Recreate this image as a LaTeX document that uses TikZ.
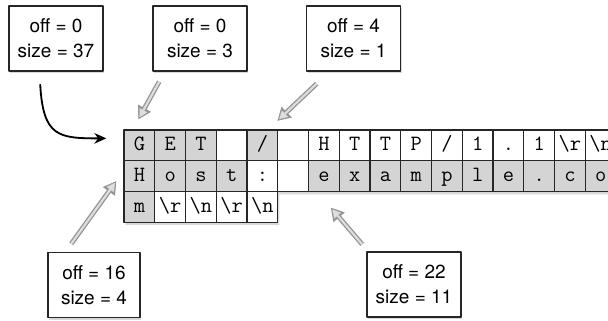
\documentclass[tikz,border=0pt]{standalone}
\usepackage{fontspec}
\setmainfont{TeX Gyre Heros}
\usetikzlibrary{arrows.meta,calc,shadows}
\definecolor{cellgray}{RGB}{212,212,212}
\definecolor{framegray}{RGB}{38,38,38}
\definecolor{arrowgray}{RGB}{150,150,150}
\definecolor{arrowfill}{RGB}{222,222,222}
\newcommand{\bs}{\textbackslash}

\begin{document}
\begin{tikzpicture}[x=0.025cm,y=-0.025cm,>=Stealth,line join=round,
 infobox/.style={draw=framegray,line width=1.1pt,fill=white,minimum width=2.35cm,
  minimum height=1.62cm,align=center,font=\fontsize{13.5}{18}\selectfont,
  drop shadow={opacity=.3,shadow xshift=1pt,shadow yshift=-1.6pt}},
 cell/.style={draw=framegray,line width=1pt,minimum width=.769cm,minimum height=.769cm,
  inner sep=0pt,text height=1.6ex,text depth=.2ex,
  font=\ttfamily\fontsize{15.5}{15.5}\selectfont},
 graycell/.style={cell,fill=cellgray},
 hollowarrow/.style={draw=arrowgray,line width=3.4pt,
  -{Triangle[length=9pt,width=10.5pt,line width=.6pt]},
  postaction={draw=arrowfill,line width=1.5pt,
  -{Triangle[length=5.6pt,width=6.2pt,line width=.1pt]},shorten >=1.7pt}}]
 \useasboundingbox (0,0) rectangle (608,321);
 \clip (0,0) rectangle (608,321);
 % label boxes
 \node[infobox] (whole) at (56,38.5) {off = 0\\size = 37};
 \node[infobox] (method) at (200,38.5) {off = 0\\size = 3};
 \node[infobox] (path) at (353.5,38.5) {off = 4\\size = 1};
 \node[infobox,minimum width=2.3cm] (hkey) at (94,285) {off = 16\\size = 4};
 \node[infobox] (hval) at (414,284.5) {off = 22\\size = 11};
 % buffer
 \path[fill=white,drop shadow={opacity=.3,shadow xshift=1.2pt,shadow yshift=-2pt}]
  (124,130) -- (616,130) -- (616,191.5) -- (277.75,191.5) -- (277.75,222.25)
  -- (124,222.25) -- cycle;
 \foreach \ch/\st [count=\i] in {G/graycell,E/graycell,T/graycell,{}/cell,{/}/graycell,
  {}/cell,H/cell,T/cell,T/cell,P/cell,{/}/cell,1/cell,./cell,1/cell,\bs r/cell,\bs n/cell}
  \node[\st] (ra\i) at (108.625+30.75*\i,145.375) {\ch};
 \foreach \ch/\st [count=\i] in {H/graycell,o/graycell,s/graycell,t/graycell,:/cell,
  {}/cell,e/graycell,x/graycell,a/graycell,m/graycell,p/graycell,l/graycell,e/graycell,
  ./graycell,c/graycell,o/graycell}
  \node[\st] (rb\i) at (108.625+30.75*\i,176.125) {\ch};
 \foreach \ch/\st [count=\i] in {m/graycell,\bs r/cell,\bs n/cell,\bs r/cell,\bs n/cell}
  \node[\st] (rc\i) at (108.625+30.75*\i,206.875) {\ch};
 % arrow ends
 \coordinate (wholeTail) at ($(whole.south west)+(32,13)$);
 \coordinate (wholeTip) at ($(ra1.west)+(-17,-7)$);
 \coordinate (methodTail) at ($(method.south west)+(7,10)$);
 \coordinate (methodTip) at ($(ra1.north)+(-1,-10)$);
 \coordinate (pathTail) at ($(path.south west)+(11,12)$);
 \coordinate (pathTip) at ($(ra5.north east)+(-1,-8.5)$);
 \coordinate (hkeyTail) at ($(hkey.north west)+(24,-8)$);
 \coordinate (hkeyTip) at ($(rb1.west)+(-7,5)$);
 \coordinate (hvalTail) at ($(hval.north west)+(-4,-7)$);
 \coordinate (hvalTip) at ($(rb7.south)+(7,15.5)$);
 % arrows
 \draw[-{Stealth[length=8.5pt,width=7.5pt]},line width=1.3pt,line cap=round]
  (wholeTail) .. controls ($(wholeTail)+(3,52)$) and ($(wholeTip)+(-48,0)$) .. (wholeTip);
 \draw[hollowarrow] (methodTail) -- (methodTip);
 \draw[hollowarrow] (pathTail) -- (pathTip);
 \draw[hollowarrow] (hkeyTail) -- (hkeyTip);
 \draw[hollowarrow] (hvalTail) -- (hvalTip);
\end{tikzpicture}
\end{document}
